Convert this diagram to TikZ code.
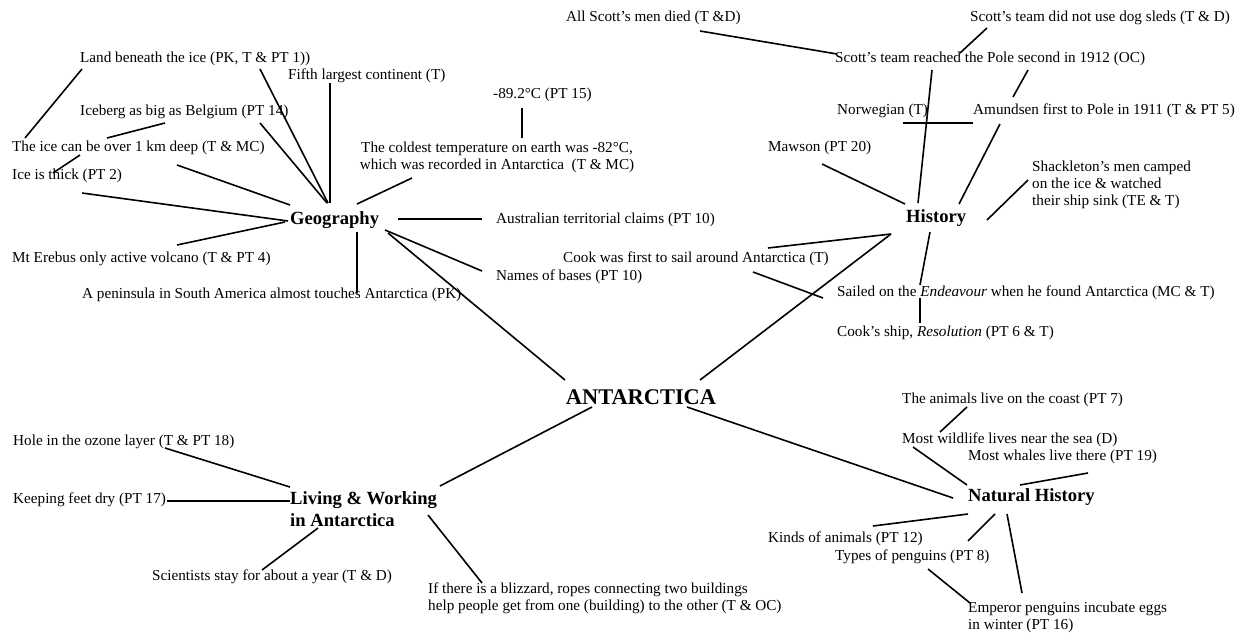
\documentclass[tikz,border=0pt]{standalone}
\usepackage{fontspec}
\setmainfont{Liberation Serif}
\begin{document}
\begin{tikzpicture}[x=1pt,y=-1pt,
  txt/.style={inner sep=0pt,anchor=west,font=\fontsize{15.2}{17}\selectfont},
  cat/.style={inner sep=0pt,anchor=west,font=\fontsize{18.6}{22}\selectfont\bfseries},
  hub/.style={inner sep=0pt,font=\fontsize{22.4}{26}\selectfont\bfseries},
  link/.style={line width=1.6pt}]
\useasboundingbox (0,0) rectangle (1236,632);

% ---------- centre ----------
\node[hub] (antarctica) at (641,397) {ANTARCTICA};

% ---------- Geography ----------
\node[cat] (geo) at (290,220) {Geography};
\node[txt] (land) at (80,59) {Land beneath the ice (PK, T \& PT 1))};
\node[txt] (fifth) at (288,76) {Fifth largest continent (T)};
\node[txt] (iceberg) at (80,112) {Iceberg as big as Belgium (PT 14)};
\node[txt] (icedeep) at (12,148) {The ice can be over 1 km deep (T \& MC)};
\node[txt] (thick) at (12,176) {Ice is thick (PT 2)};
\node[txt] (erebus) at (12,259) {Mt Erebus only active volcano (T \& PT 4)};
\node[txt] (peninsula) at (82,295) {A peninsula in South America almost touches Antarctica (PK)};
\node[txt] (temp) at (493,95) {-89.2°C (PT 15)};
\node[txt,anchor=center,align=center] (coldest) at (497,157)
  {The coldest temperature on earth was -82°C,\\ which was recorded in Antarctica\ \ (T \& MC)};
\node[txt] (claims) at (496,220) {Australian territorial claims (PT 10)};
\node[txt] (bases) at (496,277) {Names of bases (PT 10)};

% ---------- History ----------
\node[cat] (hist) at (906,218) {History};
\node[txt] (allscott) at (566,18) {All Scott's men died (T \&D)};
\node[txt] (sleds) at (970,18) {Scott's team did not use dog sleds (T \& D)};
\node[txt] (reached) at (835,59) {Scott's team reached the Pole second in 1912 (OC)};
\node[txt] (norwegian) at (837,111) {Norwegian (T)};
\node[txt] (amundsen) at (973,111) {Amundsen first to Pole in 1911 (T \& PT 5)};
\node[txt] (mawson) at (768,148) {Mawson (PT 20)};
\node[txt,align=left] (shackleton) at (1032,185)
  {Shackleton's men camped\\ on the ice \& watched\\ their ship sink (TE \& T)};
\node[txt] (cook) at (563,259) {Cook was first to sail around Antarctica (T)};
\node[txt] (sailed) at (837,293) {Sailed on the \textit{Endeavour} when he found Antarctica (MC \& T)};
\node[txt] (resolution) at (837,333) {Cook's ship, \textit{Resolution} (PT 6 \& T)};

% ---------- Natural History ----------
\node[cat] (nat) at (968,497) {Natural History};
\node[txt] (coast) at (902,400) {The animals live on the coast (PT 7)};
\node[txt] (wildlife) at (902,440) {Most wildlife lives near the sea (D)};
\node[txt] (whales) at (968,457) {Most whales live there (PT 19)};
\node[txt] (kinds) at (768,539) {Kinds of animals (PT 12)};
\node[txt] (types) at (835,557) {Types of penguins (PT 8)};
\node[txt,align=left] (emperor) at (968,617)
  {Emperor penguins incubate eggs\\ in winter (PT 16)};

% ---------- Living & Working ----------
\node[cat,align=left] (living) at (290,509) {Living \& Working\\ in Antarctica};
\node[txt] (ozone) at (13,442) {Hole in the ozone layer (T \& PT 18)};
\node[txt] (feet) at (13,500) {Keeping feet dry (PT 17)};
\node[txt] (scientists) at (152,577) {Scientists stay for about a year (T \& D)};
\node[txt,align=left] (blizzard) at (428,598)
  {If there is a blizzard, ropes connecting two buildings\\ help people get from one (building) to the other (T \& OC)};

% ---------- connector end points ----------
% Geography
\coordinate (land-a) at (82,69);    \coordinate (icedeep-a) at (25,138);
\coordinate (land-b) at (260,69);   \coordinate (geo-nw1) at (328,203);
\coordinate (fifth-s) at (330,83);  \coordinate (geo-n) at (330,203);
\coordinate (iceberg-b) at (260,123); \coordinate (geo-nw2) at (327,203);
\coordinate (iceberg-a) at (165,123); \coordinate (icedeep-b) at (107,138);
\coordinate (icedeep-c) at (177,165); \coordinate (geo-w1) at (290,205);
\coordinate (icedeep-d) at (80,155);  \coordinate (thick-a) at (53,173);
\coordinate (thick-b) at (82,193);    \coordinate (geo-w2) at (288,221);
\coordinate (erebus-a) at (177,245);  \coordinate (geo-w3) at (285,222);
\coordinate (geo-s) at (357,232);     \coordinate (peninsula-n) at (357,293);
\coordinate (geo-e) at (398,219);     \coordinate (claims-w) at (482,219);
\coordinate (geo-se1) at (385,230);   \coordinate (bases-w) at (482,271);
\coordinate (geo-se2) at (388,233);   \coordinate (ant-nw) at (565,380);
\coordinate (temp-s) at (522,108);    \coordinate (coldest-n) at (522,138);
\coordinate (coldest-s) at (412,178); \coordinate (geo-ne) at (357,204);
% History
\coordinate (allscott-a) at (700,31); \coordinate (reached-w) at (837,54);
\coordinate (sleds-a) at (987,28);    \coordinate (reached-n) at (960,53);
\coordinate (reached-s) at (932,70);  \coordinate (hist-n) at (918,203);
\coordinate (reached-se) at (1028,70); \coordinate (amundsen-n) at (1013,97);
\coordinate (norw-l) at (903,123);    \coordinate (norw-r) at (973,123);
\coordinate (mawson-a) at (822,164);  \coordinate (hist-nw) at (905,204);
\coordinate (amundsen-s) at (1000,124); \coordinate (hist-ne) at (959,204);
\coordinate (shack-a) at (1028,180);  \coordinate (hist-e) at (987,220);
\coordinate (hist-sw) at (891,234);   \coordinate (cook-a) at (768,248);
\coordinate (ant-ne) at (700,380);
\coordinate (hist-s) at (930,232);    \coordinate (sailed-n) at (920,285);
\coordinate (sailed-s) at (920,298);  \coordinate (resolution-n) at (920,323);
\coordinate (cook-b) at (753,272);    \coordinate (sailed-w) at (823,298);
% Natural History
\coordinate (ant-se) at (687,407);    \coordinate (nat-w) at (953,498);
\coordinate (coast-s) at (967,407);   \coordinate (wildlife-n) at (940,432);
\coordinate (wildlife-s) at (913,447); \coordinate (nat-nw) at (967,485);
\coordinate (whales-s) at (1088,473); \coordinate (nat-n) at (1020,485);
\coordinate (nat-sw) at (968,514);    \coordinate (kinds-n) at (873,526);
\coordinate (nat-s1) at (995,514);    \coordinate (types-n) at (968,541);
\coordinate (types-s) at (928,569);   \coordinate (emperor-nw) at (970,603);
\coordinate (nat-s2) at (1007,514);   \coordinate (emperor-n) at (1022,593);
% Living & Working
\coordinate (ant-sw) at (592,407);    \coordinate (living-ne) at (440,486);
\coordinate (ozone-a) at (165,448);   \coordinate (living-nw) at (290,487);
\coordinate (feet-e) at (167,501);    \coordinate (living-w) at (290,501);
\coordinate (living-s) at (318,528);  \coordinate (scientists-n) at (262,570);
\coordinate (living-se) at (428,515); \coordinate (blizzard-n) at (482,583);

% ---------- connectors ----------
\draw[link] (land-a) -- (icedeep-a);
\draw[link] (land-b) -- (geo-nw1);
\draw[link] (fifth-s) -- (geo-n);
\draw[link] (iceberg-b) -- (geo-nw2);
\draw[link] (iceberg-a) -- (icedeep-b);
\draw[link] (icedeep-c) -- (geo-w1);
\draw[link] (icedeep-d) -- (thick-a);
\draw[link] (thick-b) -- (geo-w2);
\draw[link] (erebus-a) -- (geo-w3);
\draw[link] (geo-s) -- (peninsula-n);
\draw[link] (geo-e) -- (claims-w);
\draw[link] (geo-se1) -- (bases-w);
\draw[link] (geo-se2) -- (ant-nw);
\draw[link] (temp-s) -- (coldest-n);
\draw[link] (coldest-s) -- (geo-ne);

\draw[link] (allscott-a) -- (reached-w);
\draw[link] (sleds-a) -- (reached-n);
\draw[link] (reached-s) -- (hist-n);
\draw[link] (reached-se) -- (amundsen-n);
\draw[link] (norw-l) -- (norw-r);
\draw[link] (mawson-a) -- (hist-nw);
\draw[link] (amundsen-s) -- (hist-ne);
\draw[link] (shack-a) -- (hist-e);
\draw[link] (hist-sw) -- (cook-a);
\draw[link] (hist-sw) -- (ant-ne);
\draw[link] (hist-s) -- (sailed-n);
\draw[link] (sailed-s) -- (resolution-n);
\draw[link] (cook-b) -- (sailed-w);

\draw[link] (ant-se) -- (nat-w);
\draw[link] (coast-s) -- (wildlife-n);
\draw[link] (wildlife-s) -- (nat-nw);
\draw[link] (whales-s) -- (nat-n);
\draw[link] (nat-sw) -- (kinds-n);
\draw[link] (nat-s1) -- (types-n);
\draw[link] (types-s) -- (emperor-nw);
\draw[link] (nat-s2) -- (emperor-n);

\draw[link] (ant-sw) -- (living-ne);
\draw[link] (ozone-a) -- (living-nw);
\draw[link] (feet-e) -- (living-w);
\draw[link] (living-s) -- (scientists-n);
\draw[link] (living-se) -- (blizzard-n);
\end{tikzpicture}
\end{document}
